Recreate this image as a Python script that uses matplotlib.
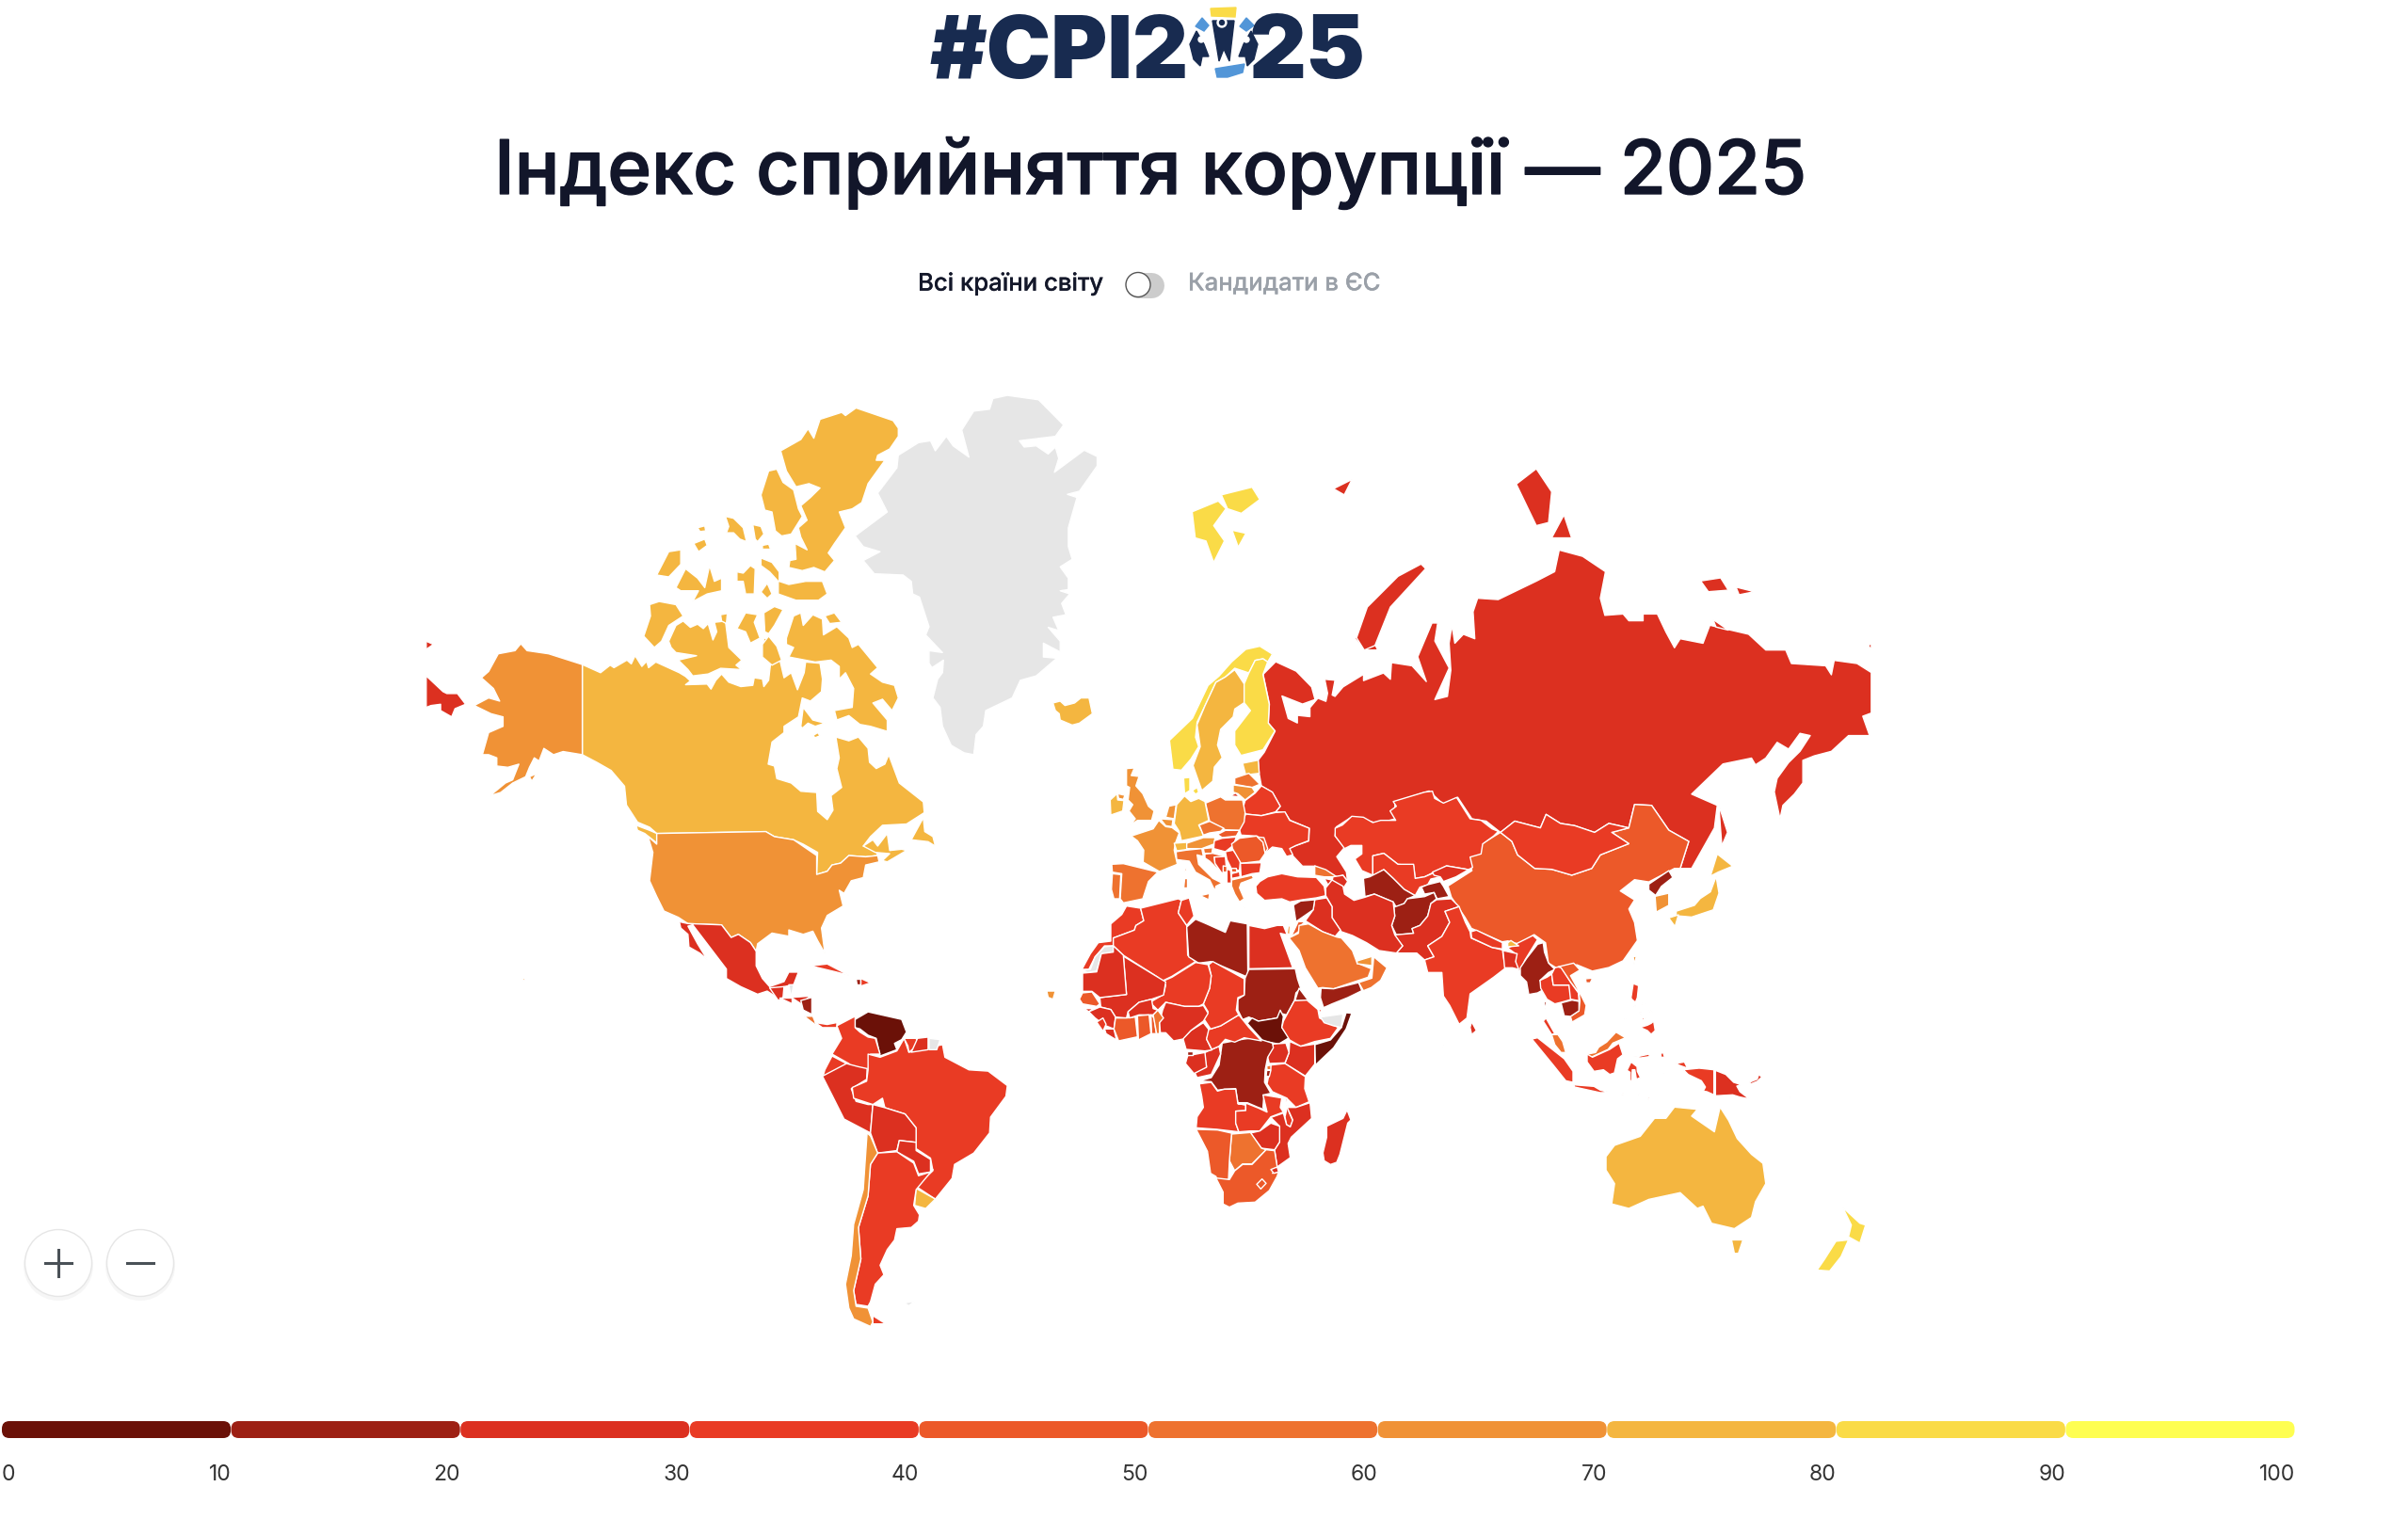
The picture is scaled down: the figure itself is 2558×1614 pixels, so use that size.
"""Індекс сприйняття корупції 2025: карта світу, контури обведені вручну з референсу."""
import matplotlib
matplotlib.use("Agg")
import matplotlib.pyplot as plt
import matplotlib.patheffects as pe
from matplotlib.patches import Circle, FancyBboxPatch, Polygon
import numpy as np

W, H = 2558, 1614
FONT = ["Inter", "DejaVu Sans"]

TITLE = "Індекс сприйняття корупції — 2025"
TOGGLE_LEFT = "Всі країни світу"
TOGGLE_RIGHT = "Кандидати в ЄС"
BIN_COLORS = ["#6b1108", "#9d2014", "#dc3020", "#e93b24", "#ec5929",
              "#ee722f", "#f09236", "#f4b640", "#fadb47", "#fefe51"]
TICKS = [0, 10, 20, 30, 40, 50, 60, 70, 80, 90, 100]
NO_DATA = "#e6e6e6"

# оцінка за кольором на карті, None = немає даних
SCORES = {
    "Canada": 75, "USA": 64, "Alaska": 64, "Greenland": None, "Iceland": 77, "CapeVerde": 62,
    "Mexico": 27, "Guatemala": 26, "Belize": None, "Honduras": 22, "Salvador": 29, "Nicaragua": 14,
    "CostaRica": 58, "Panama": 33, "Cuba": 39, "Haiti": 16, "Dominican": 36, "Venezuela": 9,
    "Colombia": 37, "Ecuador": 32, "Peru": 28, "Brazil": 35, "Guyana": 39, "Suriname": 29,
    "Guiana": None, "Bolivia": 28, "Paraguay": 24, "Uruguay": 73, "Argentina": 36, "Chile": 63,
    "Falklands": None, "Norway": 84, "Sweden": 79, "Finland": 88, "Estonia": 76, "Latvia": 59,
    "Lithuania": 63, "Belarus": 33, "Ukraine": 36, "Poland": 53, "Germany": 77, "Denmark": 89,
    "Netherlands": 69, "Belgium": 69, "France": 66, "Spain": 55, "Portugal": 56, "UK": 69,
    "Ireland": 77, "Switzerland": 79, "Austria": 67, "Czechia": 56, "Slovakia": 49, "Hungary": 39,
    "Slovenia": 58, "Croatia": 47, "Italy": 53, "Bosnia": 33, "Serbia": 35, "Romania": 45,
    "Moldova": 41, "Bulgaria": 39, "Albania": 39, "Macedonia": 39, "Montenegro": 45, "Kosovo": 44,
    "Greece": 50, "Turkey": 31, "Georgia": 50, "Armenia": 29, "Azerbaijan": 29, "Cyprus": 56,
    "Kaliningrad": 22, "Russia": 22, "RussiaIslands": 22, "Svalbard": 84, "Kazakhstan": 38,
    "Uzbekistan": 31, "Turkmenistan": 17, "Kyrgyzstan": 26, "Tajikistan": 19, "Afghanistan": 16,
    "Pakistan": 27, "Iran": 23, "Iraq": 26, "Syria": 15, "Jordan": 49, "Israel": 62, "Saudi": 57,
    "Yemen": 13, "Oman": 52, "UAE": 69, "India": 38, "Nepal": 34, "Bhutan": 71, "Bangladesh": 23,
    "SriLanka": 29, "Maldives": 38, "China": 43, "Mongolia": 33, "NorthKorea": 15, "SouthKorea": 63,
    "Japan": 71, "Taiwan": 68, "Myanmar": 16, "Thailand": 33, "Laos": 33, "Vietnam": 41,
    "Cambodia": 19, "Malaysia": 52, "Indonesia": 34, "PNG": 28, "Philippines": 32, "Australia": 76,
    "NewZealand": 81, "Morocco": 39, "WesternSahara": None, "Algeria": 34, "Tunisia": 39,
    "Libya": 13, "Egypt": 29, "Sudan": 19, "SouthSudan": 8, "Eritrea": 13, "Ethiopia": 37,
    "Djibouti": 31, "Somalia": 9, "Somaliland": None, "Kenya": 29, "Tanzania": 39, "Uganda": 26,
    "Rwanda": 58, "Burundi": 17, "DRC": 19, "Congo": 22, "Gabon": 28, "EqGuinea": 15,
    "Cameroon": 26, "CAR": 32, "Chad": 31, "Niger": 31, "Nigeria": 26, "Mali": 28,
    "Mauritania": 29, "Senegal": 45, "Bissau": 21, "Guinea": 28, "SierraLeone": 33, "Liberia": 27,
    "IvoryCoast": 45, "Burkina": 29, "Ghana": 43, "Togo": 42, "Benin": 51, "Angola": 32,
    "Zambia": 39, "Malawi": 34, "Mozambique": 25, "Zimbabwe": 22, "Botswana": 57, "Namibia": 49,
    "SouthAfrica": 41, "Lesotho": 44, "Eswatini": 27, "Madagascar": 25,
}

# контури: плоскі списки x, y у координатах окремих кадрів (див. FRAMES)
WEST = {
    "Greenland": [[1140,85,1165,55,1198,52,1205,35,1235,30,1300,37,1352,77,1335,95,1260,102,1270,112,1295,110,1320,123,1335,112,1342,130,1333,152,1395,117,1422,127,1422,142,1385,182,1360,187,1380,192,1362,240,1362,270,1370,290,1345,302,1362,320,1362,338,1345,340,1365,345,1348,360,1357,378,1330,382,1342,403,1320,398,1345,420,1345,437,1310,423,1310,445,1338,447,1295,475,1262,482,1245,510,1190,530,1185,555,1170,568,1165,600,1145,597,1118,585,1100,555,1095,525,1080,510,1090,480,1100,470,1102,450,1078,462,1072,455,1072,435,1100,438,1065,410,1072,397,1052,350,1038,345,1035,325,1018,315,958,313,935,292,970,278,935,270,918,253,985,215,965,185,1005,145,1008,125,1050,105,1075,102,1085,118,1108,95,1122,110,1155,128]],
    "Canada": [
        [350,457,388,470,408,458,416,462,443,450,452,456,460,443,474,460,484,452,488,462,503,453,552,470,565,476,575,483,565,489,610,488,618,496,628,482,640,472,655,485,680,492,705,490,708,478,725,480,728,492,738,482,742,455,725,440,728,415,745,418,762,452,770,478,785,470,798,497,812,470,815,453,845,455,850,480,848,500,825,515,808,510,800,540,770,555,770,565,745,580,737,615,750,618,755,638,785,645,805,658,838,660,840,690,860,703,872,688,868,665,890,652,880,622,885,605,878,572,905,578,925,572,945,590,948,612,962,622,980,615,988,600,1010,645,1060,675,1062,692,1025,710,975,712,950,730,935,745,955,740,965,760,940,762,905,760,888,772,870,775,860,785,838,790,840,755,810,742,790,735,750,730,732,722,505,725,490,715,465,707,442,680,438,650,410,625,380,612,350,600],
        [1035,735,1060,700,1063,722,1080,730,1085,745,1070,738],
        [935,745,955,735,965,745,985,725,990,752,1015,750,1025,752,985,770,975,768,990,757,960,755],
        [763,118,805,100,820,83,832,98,845,68,890,57,898,62,920,50,997,70,1008,82,1008,95,990,115,965,125,962,133,980,133,945,170,932,200,912,210,885,215,898,240,875,265,862,280,875,292,855,310,832,303,808,308,780,303,782,292,795,290,793,265,818,275,805,255,800,240,818,228,805,205,825,192,845,177,822,170,795,175,775,150],
        [722,188,738,150,755,147,768,168,790,180,800,210,808,222,785,250,765,253,752,245,745,215,730,212],
        [648,222,665,225,685,240,692,262,678,258,665,248,650,248,655,238],
        [705,235,722,238,728,250,715,262,710,258],
        [725,268,738,266,742,274,725,274],
        [590,240,605,237,607,245,595,246],
        [582,265,605,258,610,268,592,278],
        [505,315,530,278,555,275,555,298,530,318],
        [545,335,565,305,590,320,605,335,615,300,625,325,640,320,640,340,610,345,580,357,592,340,555,340],
        [672,310,685,312,700,300,710,305,708,345,690,345,685,325,672,325],
        [722,300,722,288,745,295,760,310,760,325,780,330,815,325,850,325,860,345,842,355,795,355,758,345,758,325,740,310],
        [722,342,735,328,745,345,735,352],
        [490,362,510,357,545,362,560,380,530,395,515,420,500,430,478,412,492,380],
        [530,420,545,395,560,388,575,398,590,393,602,400,612,392,622,418,630,405,625,390,648,388,655,430,682,450,670,458,682,465,638,463,612,472,580,475,570,465,550,450,588,443,545,438,535,430],
        [638,378,652,376,650,392,640,388],
        [672,400,690,375,715,378,708,390,720,415,700,423,690,405],
        [728,375,750,365,768,370,750,395,738,408,730,405],
        [725,425,738,412,755,428,765,450,745,458,725,445],
        [775,415,790,380,805,375,810,395,830,378,850,385,852,410,880,397,905,415,912,430,925,425,965,462,950,472,975,485,1000,490,1008,510,995,530,975,512,955,518,985,545,985,563,950,555,928,552,905,538,880,545,875,530,912,525,915,495,898,470,885,480,885,460,868,450,835,453,780,445,790,430,775,425],
        [805,555,810,525,830,545,855,550,835,555,820,550,808,558],
        [830,570,840,565,845,570,835,573],
        [855,380,875,375,890,390,865,392],
        [462,712,490,720,505,725,505,740,480,725,465,720],
    ],
    "Alaska": [
        [350,457,350,600,310,595,290,600,270,590,260,610,250,605,240,620,232,635,205,645,180,660,158,665,190,645,205,640,218,615,195,620,172,618,172,605,155,600,142,600,155,565,185,555,185,540,160,535,125,522,155,510,178,515,165,495,140,478,155,468,175,440,210,435,222,424,235,435,280,440],
        [240,635,255,630,245,642],
        [225,955,231,955,228,960],
    ],
    "RussiaIslands": [[25,475,60,500,68,503,90,503,107,520,85,527,78,540,55,530,55,520,35,522,25,525], [25,420,40,425,25,433]],
    "USA": [[505,725,732,722,750,730,790,735,838,760,838,790,860,785,870,775,888,772,905,760,940,762,965,760,968,770,940,775,935,795,910,800,895,820,885,815,893,840,860,855,848,875,855,915,840,895,830,880,810,885,780,878,780,888,745,883,715,900,712,912,700,898,675,885,660,890,640,870,570,868,550,858,520,848,505,825,490,800,497,755,487,730,505,742]],
    "Mexico": [
        [552,865,570,868,640,870,660,890,675,885,700,898,712,912,712,935,725,955,740,968,770,960,780,945,800,945,790,965,770,968,765,985,755,985,735,975,715,980,680,968,650,955,650,940,620,910,580,870,570,872,590,900,610,925,595,915,572,905,570,885,555,875],
    ],
    "Guatemala": [[740,970,770,968,768,985,758,990]],
    "Belize": [[780,965,790,965,785,985]],
    "Honduras": [[785,985,825,983,805,995]],
    "Salvador": [[760,985,785,985,785,995]],
    "Nicaragua": [[805,990,828,985,828,1012,810,1005]],
    "CostaRica": [[812,1015,830,1015,838,1030]],
    "Panama": [[835,1025,860,1028,880,1025,880,1033,850,1033]],
    "Cuba": [[825,935,860,932,905,950,880,945]],
    "Haiti": [[920,955,930,955,930,965,922,965]],
    "Dominican": [[930,955,950,962,930,967]],
    "Venezuela": [[918,1020,945,1008,1015,1020,1025,1040,1015,1052,1000,1058,1005,1068,970,1078,962,1050,945,1045,928,1035,918,1033]],
    "Colombia": [[880,1030,918,1015,918,1033,928,1040,945,1048,960,1050,970,1075,950,1075,945,1100,940,1120,905,1090,870,1075,890,1050]],
    "Ecuador": [[855,1100,870,1078,905,1092,860,1113,852,1108]],
    "Peru": [[850,1110,900,1090,925,1095,943,1098,942,1115,910,1130,920,1150,945,1155,955,1155,950,1200,895,1178,870,1140]],
    "Brazil": [[945,1075,970,1080,1005,1070,1020,1050,1030,1072,1100,1060,1105,1080,1155,1100,1195,1102,1235,1125,1232,1142,1200,1175,1198,1200,1165,1232,1125,1250,1120,1272,1085,1305,1045,1285,1080,1260,1075,1240,1045,1225,1045,1192,1022,1170,980,1160,975,1145,955,1155,915,1145,912,1128,942,1118,945,1100]],
    "Guyana": [[1020,1050,1045,1050,1050,1060,1030,1072,1028,1062]],
    "Suriname": [[1048,1050,1070,1048,1070,1068,1035,1072]],
    "Guiana": [[1072,1050,1095,1052,1088,1068,1072,1068]],
    "Bolivia": [[955,1155,980,1160,1022,1170,1045,1192,1045,1215,1010,1212,1005,1228,965,1232,950,1200]],
    "Paraguay": [[1010,1212,1045,1215,1045,1228,1075,1242,1075,1262,1050,1265,1040,1245,1005,1230]],
    "Uruguay": [[1045,1288,1085,1305,1065,1320,1042,1315]],
    "Argentina": [[965,1232,1005,1230,1040,1248,1050,1268,1075,1262,1080,1258,1045,1290,1040,1315,1052,1330,1050,1340,1035,1350,1005,1352,1000,1370,985,1385,970,1410,978,1425,960,1440,950,1468,945,1475,920,1472,915,1450,930,1400,925,1350,945,1300,950,1250], [955,1490,982,1503,955,1503]],
    "Chile": [[943,1200,950,1205,965,1232,950,1250,945,1300,925,1350,930,1400,915,1450,920,1475,945,1478,955,1500,950,1507,915,1495,905,1478,898,1440,910,1395,915,1345,935,1290]],
    "Falklands": [[1020,1470,1042,1467,1030,1474]],
    "Iceland": [[1330,518,1345,515,1355,522,1375,518,1388,510,1405,510,1412,535,1385,550,1370,553,1345,545,1343,535,1335,530]],
    "CapeVerde": [[1317,975,1335,975,1330,988,1320,985]],
}

EAST = {
    "Russia": [
        [421,111,457,132,484,167,490,195,468,205,432,187,443,237,459,247,459,230,481,233,481,213,495,192,509,199,512,181,507,150,525,152,520,185,525,188,539,167,575,139,575,153,610,136,622,150,624,113,660,120,685,155,670,100,695,25,705,25,700,65,725,125,700,195,722,188,728,130,725,70,730,30,735,70,750,50,770,60,767,0,775,-30,811,-27,878,-68,910,-89,918,-137,959,-123,999,-89,990,-30,998,8,1030,5,1040,20,1065,20,1065,5,1090,5,1105,45,1120,80,1130,60,1170,70,1182,30,1250,50,1280,85,1315,85,1325,115,1385,120,1395,140,1400,108,1440,115,1465,135,1465,225,1450,232,1462,275,1425,275,1395,310,1365,320,1345,330,1345,380,1330,405,1310,430,1305,460,1295,400,1300,370,1320,335,1340,310,1358,275,1340,270,1320,305,1300,290,1280,325,1262,340,1255,325,1205,338,1150,405,1195,430,1190,480,1150,570,1130,570,1145,510,1110,485,1080,430,1050,428,1040,480,1005,470,980,490,945,475,920,470,895,450,885,480,840,465,815,490,790,465,765,460,740,412,715,428,690,398,630,422,630,460,600,470,555,455,527,478,525,498,542,523,528,544,545,578,547,599,539,585,528,589,490,565,468,565,451,542,443,526,457,519,479,509,480,481,446,463,437,445,421,445,429,432,415,401,396,387,392,359,390,330,401,312,420,265,408,247,410,205,399,139],
        [1198,430,1213,490,1203,520,1200,470],
        [560,60,590,0,600,0,590,60,600,85,578,85],
        [1460,75,1465,70,1465,85],
    ],
    "China": [[723,609,765,575,760,545,783,515,815,490,835,510,845,540,875,570,905,572,940,585,975,570,990,540,1020,525,1040,515,1010,490,1040,480,1050,428,1080,430,1110,485,1145,510,1130,570,1120,570,1075,600,1050,595,1025,620,1050,640,1040,660,1050,690,1055,730,1030,775,1005,790,976,798,949,784,913,791,899,780,894,735,874,717,847,738,828,731,818,733,764,703,753,679,729,634]],
    "Mongolia": [[815,490,840,465,885,480,895,450,920,470,945,475,980,490,1005,470,1040,480,1010,490,1040,515,1020,525,990,540,975,570,940,585,905,572,875,570,845,540,835,510]],
    "NorthKorea": [[1075,605,1110,575,1117,590,1097,610,1087,630,1075,618]],
    "SouthKorea": [[1086,632,1110,625,1110,652,1088,667]],
    "Japan": [[1123,665,1155,652,1165,637,1183,622,1193,588,1198,625,1188,662,1150,678,1123,675], [1183,587,1195,538,1222,565,1197,578], [1110,680,1127,673,1121,699]],
    "Australia": [[1000,1210,1015,1185,1060,1165,1085,1125,1105,1125,1120,1100,1160,1105,1150,1120,1190,1155,1200,1100,1215,1130,1230,1170,1255,1205,1275,1225,1280,1270,1262,1310,1255,1345,1225,1370,1185,1358,1170,1320,1160,1325,1130,1290,1075,1305,1040,1325,1010,1315,1015,1270,1000,1240], [1220,1395,1240,1395,1232,1425,1225,1425]],
    "NewZealand": [[1415,1323,1445,1358,1455,1362,1445,1402,1425,1388,1430,1362], [1403,1398,1425,1395,1412,1432,1392,1464,1370,1462,1383,1438]],
}

EUROPE = {
    "Norway": [[217,320,290,250,340,145,375,115,415,70,460,30,505,20,545,45,530,70,515,60,490,65,470,105,425,90,395,118,365,135,330,210,305,262,300,310,310,340,285,380,255,415,228,412]],
    "Sweden": [[425,95,455,140,455,200,425,220,420,245,380,285,370,335,385,375,360,405,355,450,320,480,292,400,315,340,305,270,330,210,365,135,395,118]],
    "Finland": [[470,105,490,65,515,60,530,70,515,110,535,205,532,265,553,290,515,350,445,368,425,335,425,290,475,225,455,200,455,140]],
    "Estonia": [[450,393,500,383,503,425,460,430]],
    "Latvia": [[425,440,470,425,505,460,480,470,425,460]],
    "Lithuania": [[420,462,480,470,490,485,458,510,435,490,420,485]],
    "Kaliningrad": [[410,497,428,488,440,500]],
    "Belarus": [[458,512,490,488,510,465,545,485,570,530,555,548,510,560,460,555,450,540]],
    "Ukraine": [[450,580,460,555,510,560,555,550,585,548,600,575,662,600,660,640,620,655,600,665,610,685,590,690,575,665,545,660,522,680,515,640,495,625,445,622,440,605]],
    "Poland": [[332,520,380,500,395,510,450,510,458,550,455,580,440,607,395,605,345,578]],
    "Germany": [[265,497,285,515,310,505,330,515,342,575,310,590,320,610,325,625,255,640,248,610,232,585,240,525]],
    "Denmark": [[262,440,282,438,282,480,265,490], [290,480,305,470,310,485,300,492]],
    "Netherlands": [[205,565,215,530,238,525,232,570]],
    "Belgium": [[188,570,228,573,225,595,205,592]],
    "France": [[95,625,165,602,183,575,205,595,225,598,248,615,235,650,232,670,242,715,185,738,133,708,135,670,115,640]],
    "Spain": [[33,715,70,713,180,740,150,770,132,825,70,838,60,825,65,745,35,740]],
    "Portugal": [[35,745,62,748,58,825,40,825,32,795]],
    "UK": [[80,410,105,408,95,432,120,435,110,465,132,490,150,530,168,545,160,575,115,575,92,590,108,570,88,545,100,525,85,510,90,470,80,465], [52,490,75,495,70,508,55,505]],
    "Ireland": [[28,510,50,490,52,510,72,512,68,545,30,558]],
    "Switzerland": [[232,648,272,645,272,668,240,672]],
    "Austria": [[272,648,325,630,362,630,360,650,320,665,272,665]],
    "Czechia": [[312,590,345,578,390,600,380,610,345,615,325,622]],
    "Slovakia": [[370,620,395,607,440,607,430,625,385,630]],
    "Hungary": [[360,640,385,632,430,628,420,655,395,675,358,665]],
    "Slovenia": [[325,665,355,662,352,680,328,680]],
    "Croatia": [[330,682,355,680,395,690,390,700,360,692,362,712,385,745,345,705,330,695]],
    "Italy": [[238,675,270,670,320,665,325,690,305,685,310,715,355,760,385,775,365,785,362,800,345,765,300,740,280,705,240,700], [263,760,273,760,273,790,260,790], [265,730,272,728,268,745], [315,815,345,808,342,828]],
    "Bosnia": [[360,692,395,690,398,725,385,745,362,712]],
    "Serbia": [[395,675,420,670,443,700,440,735,415,730,400,700]],
    "Romania": [[415,650,440,632,495,625,515,640,522,680,505,705,445,712,418,665]],
    "Moldova": [[497,628,518,630,530,665,522,680,515,645]],
    "Bulgaria": [[443,712,510,710,505,742,480,745,445,755]],
    "Albania": [[400,730,412,735,415,775,400,775]],
    "Macedonia": [[415,745,440,738,442,755,415,760]],
    "Montenegro": [[388,720,400,722,400,740,388,740]],
    "Kosovo": [[415,728,430,728,432,740,415,740]],
    "Greece": [[415,765,445,758,480,750,485,760,445,775,440,790,455,825,440,835,425,810,415,785]],
    "Turkey": [[492,785,505,770,530,755,575,745,625,755,685,757,710,785,715,815,685,822,640,828,600,835,575,825,520,830,495,808]],
    "Georgia": [[680,720,715,732,750,755,710,755,680,750]],
    "Armenia": [[710,760,735,765,740,790,722,780]],
    "Azerbaijan": [[738,755,770,750,785,770,772,790,745,795,735,770]],
    "Cyprus": [[452,850,465,850,463,855]],
}

AFRICA = {
    "Morocco": [[58,240,85,190,110,155,150,150,150,95,185,65,200,38,245,45,255,85,230,100,225,115,158,140,158,165,130,165,100,200,80,240]],
    "WesternSahara": [[60,242,85,240,100,200,130,168,158,165,158,185,120,190,105,245,75,250]],
    "Algeria": [[158,140,225,115,230,100,255,85,245,45,365,15,375,20,365,60,392,100,395,195,420,215,345,262,312,278,300,265,190,195,158,165]],
    "Tunisia": [[375,20,400,12,415,70,392,100,365,60]],
    "Libya": [[392,105,420,80,455,95,515,122,530,85,585,95,587,265,470,215,430,220,398,200]],
    "Egypt": [[590,100,640,110,680,100,700,100,712,130,690,125,730,235,590,238]],
    "Sudan": [[590,240,738,238,745,270,755,300,740,315,735,340,710,385,690,380,680,395,620,405,590,392,570,400,555,370,555,335,575,322,578,268]],
    "SouthSudan": [[585,412,600,395,620,405,680,395,690,370,700,390,695,425,718,458,685,478,635,468]],
    "Eritrea": [[740,330,750,300,780,340,810,360,775,340,738,340]],
    "Ethiopia": [[700,405,735,340,775,338,810,368,815,395,875,425,850,460,800,470,755,485,720,465,695,425]],
    "Djibouti": [[810,365,820,365,820,380]],
    "Somalia": [[800,480,850,465,885,425,900,378,918,380,900,430,860,490,802,545]],
    "Somaliland": [[818,392,890,382,885,425,860,420,830,410]],
    "Kenya": [[720,470,755,485,800,478,800,542,770,580,705,540,718,505]],
    "Tanzania": [[660,545,705,540,770,582,768,620,782,662,740,680,710,650,665,630,648,605]],
    "Uganda": [[668,478,708,475,718,505,705,538,655,540,650,520]],
    "Rwanda": [[647,548,660,545,660,560,648,560]],
    "Burundi": [[647,562,660,562,655,582,645,580]],
    "DRC": [[505,475,575,462,610,458,665,475,668,490,650,520,642,560,640,600,660,635,638,640,635,680,648,690,620,680,585,665,555,665,548,620,512,622,490,625,470,598,432,596,470,585,495,545]],
    "Congo": [[420,510,450,505,495,485,500,510,470,575,425,585,418,570,455,550,450,525]],
    "Gabon": [[388,540,395,515,450,505,455,552,415,572]],
    "EqGuinea": [[392,500,412,500,412,512,392,512]],
    "Cameroon": [[380,460,405,435,445,410,465,435,455,462,472,497,450,500,390,495]],
    "CAR": [[462,432,500,420,558,385,590,425,630,468,575,458,545,472,515,463,495,485,472,495,455,462]],
    "Chad": [[462,225,475,215,575,270,575,322,555,330,550,370,558,385,500,420,468,430,445,395,460,375,445,350,465,300,470,260]],
    "Niger": [[315,278,345,265,420,218,460,225,470,260,465,300,445,350,430,358,385,358,325,345,300,370,275,345,318,320,325,290]],
    "Nigeria": [[315,370,325,345,385,358,430,358,445,355,460,380,445,405,405,435,380,462,350,468,325,442,308,442,305,410]],
    "Mali": [[190,198,300,265,325,280,318,322,280,335,240,345,205,375,200,395,165,392,150,368,118,360,115,330,200,320]],
    "Mauritania": [[60,252,105,248,120,190,158,185,158,165,190,195,200,320,115,330,90,310,60,310]],
    "Senegal": [[50,335,60,315,90,312,115,350,105,358,60,350]],
    "Bissau": [[65,365,95,365,80,375]],
    "Guinea": [[80,375,115,360,150,368,165,392,160,430,130,418,100,395]],
    "SierraLeone": [[105,408,125,395,135,415,125,437]],
    "Liberia": [[130,430,160,430,168,465,135,445]],
    "IvoryCoast": [[165,395,200,395,228,392,235,455,175,468,160,430]],
    "Burkina": [[205,375,240,345,280,335,285,365,300,370,285,385,240,385,210,395]],
    "Ghana": [[235,388,272,385,278,445,238,465]],
    "Togo": [[278,385,288,395,295,445,280,445]],
    "Benin": [[285,385,300,370,318,395,305,410,305,445,296,445]],
    "Angola": [[432,605,470,600,490,628,512,622,548,622,555,668,580,672,580,690,548,692,548,730,558,758,490,750,422,745,425,710,445,680,440,645]],
    "Zambia": [[555,668,585,668,620,682,648,695,635,640,695,650,690,680,700,695,660,710,625,755,595,755,558,758,548,730,548,692,580,690,580,672]],
    "Malawi": [[712,680,705,650,710,650,718,695,730,722,722,742,710,735,705,710]],
    "Mozambique": [[740,680,785,665,790,715,725,775,715,795,722,840,680,870,672,815,688,790,688,740,660,712,700,698,710,735,722,742,730,720,712,680]],
    "Zimbabwe": [[625,755,660,730,688,740,688,790,672,815,630,810,595,762]],
    "Botswana": [[535,765,595,760,630,810,645,815,600,860,570,860,545,882,528,850]],
    "Namibia": [[422,750,490,752,535,762,528,850,525,910,490,912,485,900,468,890,458,820]],
    "SouthAfrica": [[485,905,528,910,545,882,570,862,600,862,645,815,672,818,682,880,665,890,685,885,680,900,655,945,610,982,555,985,528,998,508,988,508,950]],
    "Lesotho": [[615,925,632,908,645,922,628,940]],
    "Eswatini": [[660,878,680,870,685,885,670,890]],
    "Madagascar": [[838,740,890,715,903,688,915,720,905,730,880,830,870,855,850,862,830,850,826,825,838,775]],
}

ASIA = {
    "Kazakhstan": [[355,180,378,170,408,142,445,145,475,162,500,155,548,155,530,125,550,110,540,95,640,65,665,62,672,85,700,100,742,82,785,150,820,155,855,182,875,190,860,205,825,230,820,262,785,272,793,305,780,312,710,300,670,320,640,335,610,340,605,300,555,295,510,260,475,268,475,330,440,315,418,278,440,262,440,235,405,235,385,245,355,205]],
    "Uzbekistan": [[475,268,510,260,555,295,605,295,610,340,640,335,670,322,690,335,660,342,650,360,625,368,610,395,575,375,540,340,510,312,475,332]],
    "Turkmenistan": [[445,340,465,335,510,312,540,340,575,375,610,395,585,405,575,420,550,432,540,415,480,390,450,398]],
    "Kyrgyzstan": [[665,320,710,300,780,312,740,335,700,350,690,335,670,330]],
    "Tajikistan": [[630,368,650,360,690,350,700,365,718,398,680,405,670,385,640,390]],
    "Afghanistan": [[542,432,575,420,585,405,640,398,670,385,678,405,660,420,650,460,625,490,600,500,605,515,550,520,535,490,545,460]],
    "Pakistan": [[545,520,605,515,600,500,625,490,650,460,660,420,678,408,725,405,750,430,705,445,720,480,695,525,650,555,670,590,640,600,615,578,550,578,570,555,550,530]],
    "Iran": [[325,370,345,345,380,365,385,390,415,410,450,400,480,390,540,415,545,460,535,490,545,520,570,555,550,578,495,570,455,545,410,522,375,510,345,465,345,430,325,395]],
    "Iraq": [[290,408,328,402,345,430,345,465,372,505,355,525,315,510,260,475,285,440]],
    "Syria": [[222,425,245,412,290,408,285,440,230,478]],
    "Jordan": [[237,478,260,478,245,490,238,510,215,525]],
    "Israel": [[205,495,212,485,210,520,202,515]],
    "Saudi": [[208,530,238,515,240,490,270,485,315,510,360,527,375,530,410,570,425,610,470,628,460,655,370,685,350,692,315,688,300,690,260,625,240,570]],
    "Yemen": [[310,690,350,692,370,687,430,672,440,698,395,720,345,740,318,752,308,720]],
    "Oman": [[430,672,472,658,478,590,520,625,500,665,470,688,445,698]],
    "UAE": [[425,603,468,590,472,570,472,618,425,612]],
    "India": [[640,600,670,590,650,555,695,525,720,480,705,445,750,430,770,480,785,510,788,530,855,560,888,568,893,600,915,612,930,610,930,580,905,562,985,522,1000,535,960,600,945,635,920,625,895,628,860,655,785,708,775,785,750,805,720,745,700,715,695,640,650,640]],
    "Nepal": [[788,510,805,505,888,545,888,565,855,560,790,530]],
    "Bhutan": [[905,545,915,538,940,555,905,558]],
    "Bangladesh": [[890,570,935,580,930,605,940,630,920,625,895,625]],
    "SriLanka": [[790,797,805,825,790,838,785,815]],
    "Maldives": [[695,860,702,878,698,878]],
}

SEASIA = {
    "Myanmar": [[45,85,65,55,100,10,118,5,122,35,135,70,155,90,135,100,108,125,118,155,100,165,72,170,65,130,45,110], [120,190,128,195,128,225]],
    "Thailand": [[108,125,130,115,145,105,150,140,200,140,210,185,175,195,155,200,130,185,110,150], [118,255,127,245,155,295,145,298]],
    "Laos": [[155,85,175,80,205,130,230,165,232,190,205,185,200,140,150,140,145,105]],
    "Vietnam": [[165,82,215,70,235,92,205,110,235,165,255,205,250,235,210,258,205,240,232,222,235,190,232,165,205,130,175,85]],
    "Cambodia": [[175,197,210,188,232,192,232,222,205,240,185,238]],
    "Malaysia": [[145,298,165,298,180,320,190,355,175,355,155,330], [260,360,285,355,295,338,320,322,350,290,380,308,340,325,325,345,275,368,262,368]],
    "Indonesia": [
        [82,312,100,308,185,375,213,415,213,450,190,445,150,395],
        [258,360,275,370,330,345,360,325,372,362,355,375,345,420,330,425,310,410,280,415,258,385],
        [215,458,280,463,300,475,330,482,300,483,218,465],
        [385,412,398,385,417,400,418,415,428,435,415,440,410,410,402,410,400,445,394,445,395,418],
        [393,370,420,368,455,360,457,368,430,372],
        [565,410,615,405,662,410,662,490,640,480,628,478,635,465,622,445,580,425],
        [540,390,568,385,578,405,555,397],
        [450,497,458,495,453,505], [360,488,375,485,375,490], [407,490,430,485,420,490],
        [500,418,528,422,500,420], [493,358,500,355,505,370,493,370],
    ],
    "PNG": [[667,412,700,425,725,450,750,458,735,462,745,480,775,503,745,497,722,490,667,493], [775,450,800,440,805,425,815,433,800,447,780,455], [905,498,915,497,910,500]],
    "Philippines": [
        [398,180,405,135,422,142,418,180,412,195,400,185],
        [427,275,450,268,462,262,470,255,475,285,462,297,450,285],
        [405,205,413,207,410,212], [430,197,447,203,435,202], [455,217,467,230,458,226],
        [425,227,432,228,430,235], [432,245,445,243,435,252], [375,252,383,240,380,250],
    ],
    "Taiwan": [[405,50,415,48,408,73]],
    "China": [[253,120,275,118,268,133,255,133]],
}

FULL = {
    "RussiaIslands": [
        [883,415,890,395,910,375,925,367,928,370,905,395,895,420,888,423],
        [987,315,1000,305,1010,320,1008,340,1000,342], [1010,350,1018,335,1023,350],
        [868,318,880,312,875,322], [1107,378,1120,376,1125,384,1112,385], [1130,382,1142,385,1132,387],
        [1115,403,1125,410,1117,408],
    ],
    "Svalbard": [
        [776,333,793,326,798,331,790,342,797,352,790,366,785,352,778,350],
        [795,322,815,317,820,325,808,334,799,331],
        [802,345,811,347,806,356],
    ],
}

# кадр: контури, зсув x, зсув y, ділник x, ділник y
FRAMES = [
    (WEST, 440, 400, 1.96, 1.493),
    (EAST, 1100, 650, 1.65, 2.09),
    (FULL, 0, 0, 1 / 1.632, 1 / 1.633),
    (EUROPE, 1170, 680, 3, 3),
    (AFRICA, 1130, 950, 3, 3),
    (ASIA, 1300, 820, 3, 3),
    (SEASIA, 1600, 1000, 3, 3),
]


def score_color(score):
    if score is None:
        return NO_DATA
    return BIN_COLORS[min(score // 10, 9)]


def heavy(width, color):
    return [pe.withStroke(linewidth=width, foreground=color)]


def draw_map(ax):
    for outlines, x0, y0, fx, fy in FRAMES:
        for name, rings in outlines.items():
            for ring in rings:
                pts = np.array(ring, dtype=float).reshape(-1, 2)
                xs = x0 + pts[:, 0] / fx
                ys = y0 + pts[:, 1] / fy
                ax.fill(xs, ys, facecolor=score_color(SCORES[name]),
                        edgecolor="white", linewidth=1.0, joinstyle="round")


def draw_logo(ax):
    navy = "#182b50"
    ax.text(987, 83, "#CPI2", fontsize=66, fontweight=900, color=navy, family=FONT, va="baseline")
    ax.text(1451, 83, "25", fontsize=68, fontweight=900, color=navy, family=FONT, va="baseline", ha="right")
    ax.add_patch(Polygon([(1286, 9), (1313, 8), (1312, 18), (1287, 17)], color="#fadb47"))
    for pts in ([(1270, 28), (1277, 19), (1284, 27), (1279, 33)], [(1317, 28), (1324, 19), (1332, 27), (1324, 33)]):
        ax.add_patch(Polygon(pts, color="#5296d8"))
    ax.add_patch(Polygon([(1288, 22), (1311, 22), (1306, 65), (1300, 52), (1295, 65)], color=navy))
    ax.add_patch(Polygon([(1271, 33), (1264, 47), (1268, 63), (1275, 70), (1277, 60), (1284, 60), (1279, 47)], color=navy))
    ax.add_patch(Polygon([(1329, 33), (1336, 47), (1332, 63), (1325, 70), (1323, 60), (1316, 60), (1321, 47)], color=navy))
    ax.add_patch(Polygon([(1291, 73), (1322, 68), (1320, 77), (1304, 82), (1293, 82)], color="#5296d8"))
    ax.add_patch(Circle((1298, 24), 5, color="white"))
    ax.add_patch(Circle((1298, 24), 2.5, color=navy))
    ax.add_patch(Circle((1276, 42), 3, color="white"))
    ax.add_patch(Circle((1324, 42), 3, color="white"))


def draw_header(ax):
    ax.text(1222, 206, TITLE, fontsize=57.2, fontweight=500, color="#12162a", family=FONT,
            ha="center", va="baseline", path_effects=heavy(1.0, "#12162a"))
    ax.text(975, 302, TOGGLE_LEFT, fontsize=18.5, fontweight=500, color="#14182a", family=FONT,
            va="center", path_effects=heavy(0.15, "#14182a"))
    ax.text(1262, 302, TOGGLE_RIGHT, fontsize=18.5, fontweight=500, color="#9aa0a8", family=FONT,
            va="center", path_effects=heavy(0.15, "#9aa0a8"))
    ax.plot([1209, 1223], [302.5, 302.5], color="#cccccc", lw=19.4, solid_capstyle="round")
    ax.add_patch(Circle((1209, 302.5), 13, facecolor="white", edgecolor="#555555", linewidth=1, zorder=3))


def draw_zoom_buttons(ax):
    for cx in (62, 149):
        ax.add_patch(Circle((cx, 1345), 37, facecolor="#f3f3f3", edgecolor="none", alpha=0.7))
        ax.add_patch(Circle((cx, 1342), 35.5, facecolor="white", edgecolor="#e6e6e6", linewidth=1))
    ax.plot([48, 76], [1342, 1342], color="#4a5157", lw=2.2)
    ax.plot([62, 62], [1328, 1356], color="#4a5157", lw=2.2)
    ax.plot([135, 163], [1342, 1342], color="#4a5157", lw=2.2)


def draw_legend(ax):
    seg = 243.6
    for i, color in enumerate(BIN_COLORS):
        x = 2 + seg * i
        ax.add_patch(FancyBboxPatch((x + 8, 1510 + 8), seg - 16.5, 2, boxstyle="round,pad=8",
                                    facecolor=color, edgecolor="none"))
    for tick in TICKS:
        x = 2 + seg * tick / 10
        ha = "left" if tick == 0 else "right"
        ax.text(x, 1567, str(tick), fontsize=16.5, color="#333333", family=FONT, ha=ha, va="center")


fig = plt.figure(figsize=(W / 100, H / 100), dpi=100)
ax = fig.add_axes([0, 0, 1, 1])
ax.set_xlim(0, W)
ax.set_ylim(H, 0)
ax.axis("off")

draw_logo(ax)
draw_header(ax)
draw_map(ax)
draw_zoom_buttons(ax)
draw_legend(ax)

fig.savefig("out.png", dpi=100)
plt.close(fig)
